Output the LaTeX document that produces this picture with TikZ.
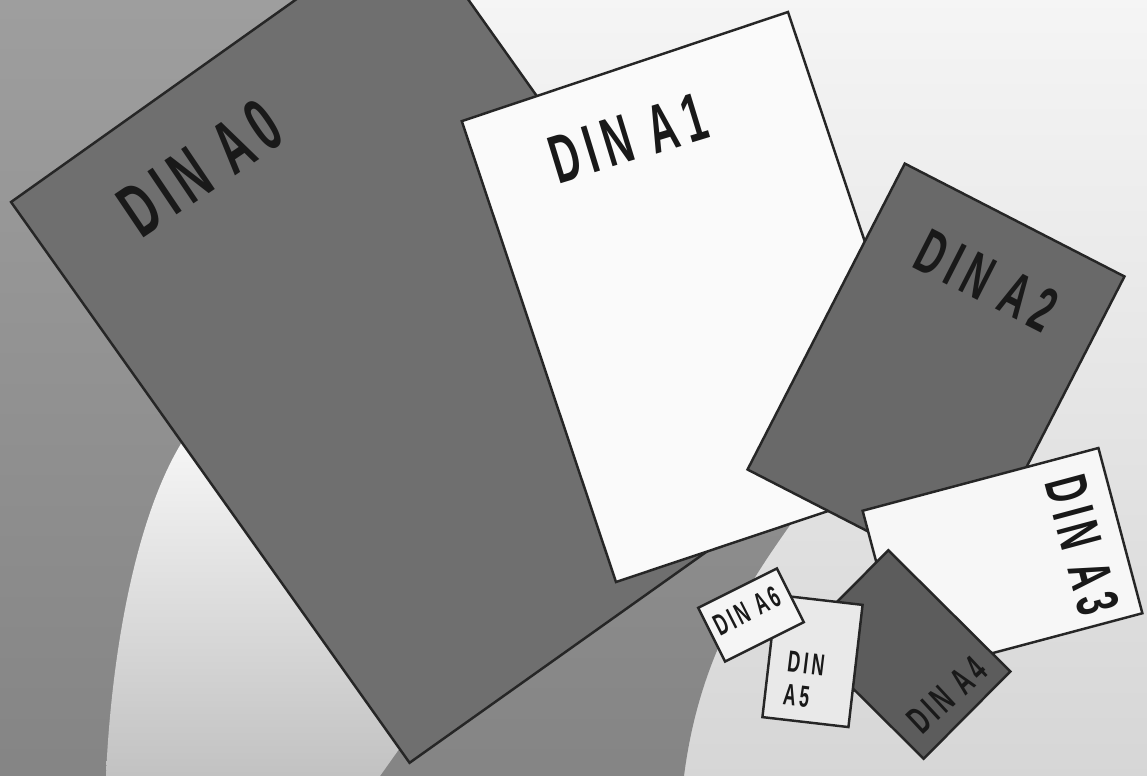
\documentclass[tikz,border=0pt]{standalone}
\usepackage{fontspec}
\newfontfamily\dinfont[FakeStretch=0.58,LetterSpace=11]{Liberation Sans}
\definecolor{darkgrayA}{HTML}{6F6F6F}
\definecolor{darkgrayB}{HTML}{696969}
\definecolor{darkgrayC}{HTML}{5C5C5C}
\definecolor{sheetwhite}{HTML}{FAFAFA}
\definecolor{sheetgrey}{HTML}{E9E9E9}
\tikzset{
  sheet/.style={draw=black!85, line width=0.7pt, inner sep=0pt, outer sep=0pt},
  darksheet/.style={sheet, fill=darkgrayA},
  lightsheet/.style={sheet, fill=sheetwhite},
  dinlabel/.style={text=black!90, inner sep=0pt, align=left,
    font=\dinfont\bfseries\fontsize{#1}{#1}\selectfont}
}

\begin{document}
\begin{tikzpicture}[x=0.1mm,y=-0.1mm]
  \useasboundingbox (0,0) rectangle (1147,776);
  \clip (0,0) rectangle (1147,776);
  % background
  \shade[top color=black!4, bottom color=black!16] (0,0) rectangle (1147,776);
  \shade[top color=black!38, bottom color=black!48]
    (0,0) -- (460,0) -- (700,400) -- (795,518)
    .. controls (755,575) and (700,650) .. (684,776) -- (0,776) -- cycle;
  \shade[top color=black!3, bottom color=black!24]
    (190,430) .. controls (140,500) and (112,640) .. (106,776)
    -- (380,776) -- (402,745) -- cycle;
  % sheets, largest first
  \node[darksheet, minimum width=49mm, minimum height=68.8mm, rotate=35.4] (a0) at (410,340.5) {};
  \node[lightsheet, minimum width=34.4mm, minimum height=48.6mm, rotate=18.5] (a1) at (702,297) {};
  \node[darksheet, fill=darkgrayB, minimum width=24.7mm, minimum height=34.4mm, rotate=-27.2] (a2) at (936,373) {};
  \node[lightsheet, fill=black!3, minimum width=24.4mm, minimum height=17.1mm, rotate=14.9] (a3) at (1002.5,562) {};
  \node[darksheet, fill=darkgrayC, minimum width=17.2mm, minimum height=12.3mm, rotate=-44.8] (a4) at (906,654.5) {};
  \node[lightsheet, fill=sheetgrey, minimum width=8.66mm, minimum height=12.3mm, rotate=-6.6] (a5) at (812.5,661) {};
  \node[lightsheet, fill=black!4, minimum width=8.8mm, minimum height=6mm, rotate=26.6] (a6) at (751,615) {};
  % labels
  \node[dinlabel=21.5, rotate=34] (a0 text) at (200,168) {DIN A0};
  \node[dinlabel=19.5, rotate=17] (a1 text) at (628,138) {DIN A1};
  \node[dinlabel=18, rotate=-27] (a2 text) at (987,280) {DIN A2};
  \node[dinlabel=17, rotate=-75] (a3 text) at (1082,545) {DIN A3};
  \node[dinlabel=11, rotate=43] (a4 text) at (947,695) {DIN A4};
  \node[dinlabel=8.6, rotate=-7] (a5 text) at (804,680) {DIN\\[1pt]A5};
  \node[dinlabel=8.6, rotate=27] (a6 text) at (747,611) {DIN A6};
\end{tikzpicture}
\end{document}
